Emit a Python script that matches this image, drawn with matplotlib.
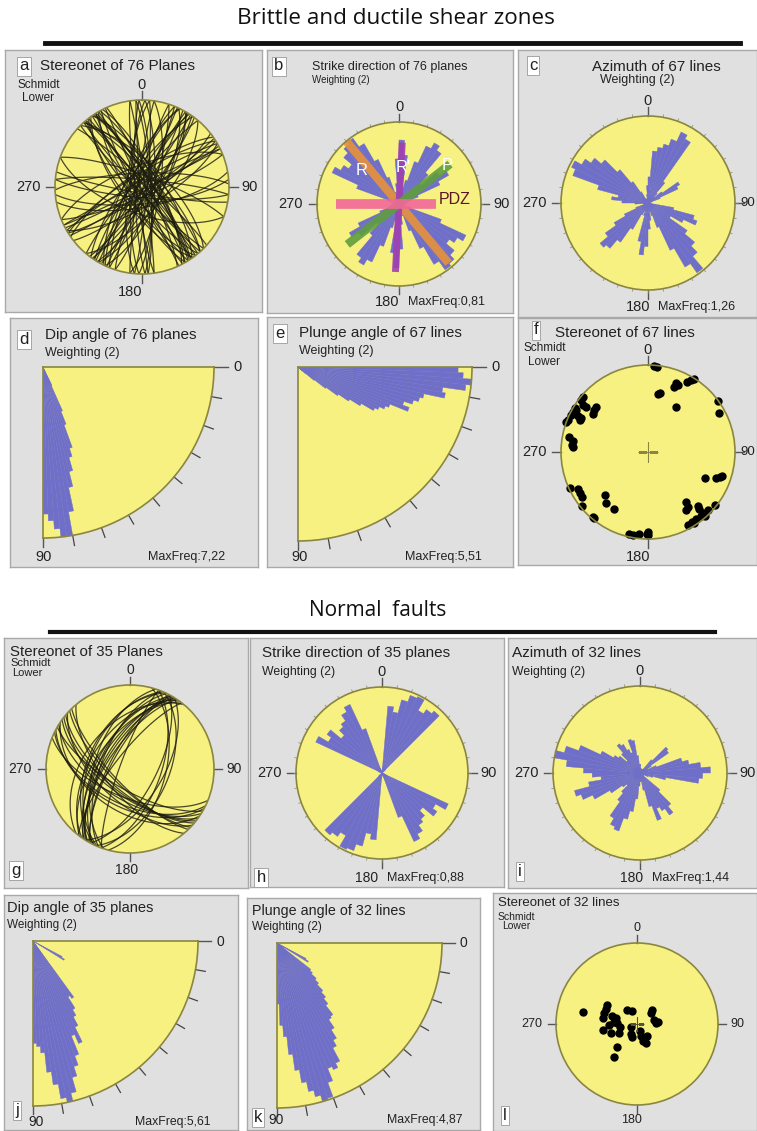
import numpy as np
import matplotlib.pyplot as plt
from matplotlib.lines import Line2D

W, H = 757, 1131
YEL = '#f7f182'
BLUE = '#6f6fc9'
GRAY = '#e0e0e0'
EDGE = '#a9a9a9'
RIM = '#8a8640'
INK = '#222222'
plt.rcParams['font.family'] = ['Liberation Sans', 'DejaVu Sans']

# ---------------- data ----------------
# a: 76 planes, strike (right hand rule) / dip
a_strike = [312, 318, 322, 325, 328, 330, 333, 336, 315, 320, 326, 331, 135, 140, 142, 145, 148, 150, 138, 144, 152, 155, 318, 327,
            18, 22, 25, 28, 31, 34, 37, 40, 198, 202, 206, 210, 213, 216, 220, 24, 30, 205, 212, 35,
            352, 356, 2, 5, 8, 172, 176, 182, 185, 188, 358, 178,
            52, 56, 60, 64, 68, 235, 240, 244, 248, 58, 238, 62,
            85, 95, 268, 275, 110, 290, 80, 100]
a_dip = [84, 78, 88, 72, 81, 86, 75, 83, 69, 87, 80, 77, 85, 79, 73, 88, 82, 76, 86, 70, 83, 89, 74, 81,
         80, 86, 71, 84, 77, 88, 82, 68, 85, 79, 74, 87, 81, 76, 83, 89, 72, 78, 86, 80,
         87, 82, 78, 85, 73, 84, 88, 79, 76, 86, 81, 83,
         79, 85, 72, 88, 81, 76, 84, 87, 70, 82, 78, 86,
         74, 80, 77, 83, 65, 79, 71, 84]

# b: strike rose of 76 planes, 5 deg bins over 0-180 (fraction of MaxFreq)
b_freq = [0.78, 0.60, 0.20, 0.30, 0.55, 0.78, 0.86, 0.80, 0.50, 0.35, 0.60, 0.70,
          0.55, 0.25, 0.10, 0.00, 0.00, 0.05, 0.05, 0.00, 0.00, 0.15, 0.55, 0.90,
          0.82, 0.75, 0.88, 0.95, 0.98, 0.85, 0.60, 0.35, 0.15, 0.10, 0.25, 0.55]
# b: interpreted shear directions R, R', P, PDZ
shear_names = ['R', "R'", 'P', 'PDZ']
shear_az = [320, 3, 52, 270]
shear_len = [1.0, 0.75, 0.79, 0.77]
shear_back = [0.94, 0.83, 0.80, 0.45]

# c: azimuth rose of 67 lines, 5 deg bins over 0-360
c_freq = [0.30, 0.60, 0.65, 0.70, 0.78, 0.90, 0.85, 0.30, 0.15, 0.10, 0.20, 0.42,
          0.38, 0.15, 0.05, 0.00, 0.00, 0.00, 0.00, 0.00, 0.30, 0.55, 0.60, 0.45,
          0.30, 0.55, 0.70, 0.80, 0.98, 0.85, 0.60, 0.30, 0.15, 0.10, 0.20, 0.30,
          0.50, 0.60, 0.45, 0.15, 0.10, 0.15, 0.35, 0.55, 0.68, 0.72, 0.60, 0.45,
          0.30, 0.15, 0.05, 0.05, 0.05, 0.15, 0.30, 0.42, 0.35, 0.60, 0.92, 0.97,
          0.88, 0.80, 0.70, 0.50, 0.30, 0.15, 0.05, 0.05, 0.05, 0.05, 0.10, 0.20]

# d, e, j, k: dip / plunge histograms, 2 deg bins over 0-90
d_freq = [0, 0, 0, 0, 0, 0, 0, 0, 0, 0, 0, 0, 0, 0, 0, 0, 0, 0, 0, 0, 0, 0, 0, 0,
          0, 0, 0, 0, 0, 0, 0, 0, 0.12, 0.28, 0.36, 0.50, 0.55, 0.63, 0.72, 0.86,
          1.0, 1.0, 0.95, 0.90, 0.86]
e_freq = [0.92, 0.95, 1.0, 0.97, 0.84, 0.86, 0.74, 0.72, 0.69, 0.64, 0.68, 0.57,
          0.55, 0.52, 0.50, 0.42, 0.35, 0.28, 0.20, 0.12, 0.06, 0.03, 0, 0,
          0, 0, 0, 0, 0, 0, 0, 0, 0, 0, 0, 0, 0, 0, 0, 0, 0, 0, 0, 0, 0]
j_freq = [0, 0, 0, 0, 0, 0, 0, 0, 0, 0, 0, 0, 0, 0, 0.20, 0.22, 0, 0, 0, 0, 0, 0, 0, 0,
          0, 0, 0, 0.42, 0.40, 0.48, 0.52, 0.58, 0.68, 0.62, 0.74, 0.80, 0.86, 0.95,
          1.0, 0.97, 0.88, 0.80, 0.68, 0.64, 0.62]
k_freq = [0, 0, 0, 0, 0, 0, 0, 0, 0, 0, 0, 0, 0, 0, 0.20, 0.22, 0, 0, 0.05, 0.26,
          0.28, 0.32, 0.35, 0.40, 0.44, 0.48, 0.55, 0.56, 0.62, 0.68, 0.72, 0.81,
          0.84, 0.82, 0.90, 0.99, 1.0, 0.96, 0.92, 0.86, 0.78, 0.68, 0.57, 0.50, 0.37]

# f: 67 lines, trend / plunge
f_trend = [6, 4, 32, 31, 29, 24, 22, 22, 11, 10, 32, 54, 61, 310, 308, 301, 298, 300, 296, 292,
           290, 297, 297, 295, 306, 306, 305, 308, 311, 278, 275, 274, 115, 111, 109, 108, 245,
           242, 239, 236, 231, 225, 219, 211, 220, 219, 143, 144, 147, 137, 138, 138, 138, 134,
           128, 144, 148, 151, 147, 193, 190, 186, 181, 180, 180, 281, 140]
f_plunge = [2, 1, 1, 4, 9, 17, 16, 20, 31, 33, 39, 1, 8, 2, 3, 2, 2, 5, 2, 1,
            0, 11, 15, 15, 9, 13, 24, 23, 22, 14, 13, 15, 29, 17, 14, 12, 1,
            10, 9, 9, 2, 31, 25, 25, 2, 2, 29, 23, 21, 16, 13, 7, 2, 4,
            2, 6, 6, 5, 3, 4, 3, 6, 6, 5, 9, 8, 5]

# g: 35 planes, strike / dip
g_strike = [198, 202, 205, 208, 210, 212, 215, 218, 220, 200, 206, 214, 203, 209, 217, 211, 213,
            15, 20, 24, 28, 32,
            112, 116, 120, 124, 128, 132, 136, 118, 126, 122, 130, 134, 140]
g_dip = [55, 62, 48, 70, 58, 66, 52, 75, 45, 80, 60, 68, 50, 72, 57, 64, 61,
         55, 60, 52, 65, 58,
         62, 55, 70, 48, 66, 58, 74, 52, 64, 60, 68, 72, 65]

# h: strike rose of 35 planes, 5 deg bins over 0-180
h_freq = [0.00, 0.78, 0.72, 0.88, 0.96, 0.98, 0.84, 0.90, 0.94, 0.05, 0, 0,
          0, 0, 0, 0, 0, 0, 0, 0, 0, 0, 0.05, 0.85,
          0.72, 0.78, 0.62, 0.70, 0.74, 0.82, 0.88, 0.55, 0.05, 0, 0, 0]

# i: azimuth rose of 32 lines, 5 deg bins over 0-360
i_freq = [0.10, 0.05, 0.05, 0.05, 0.05, 0.05, 0.05, 0.05, 0.20, 0.42, 0.40, 0.15,
          0.10, 0.20, 0.50, 0.57, 0.70, 0.81, 0.72, 0.68, 0.30, 0.15, 0.10, 0.05,
          0.05, 0.05, 0.30, 0.50, 0.59, 0.50, 0.45, 0.58, 0.40, 0.20, 0.10, 0.10,
          0.15, 0.30, 0.45, 0.55, 0.71, 0.68, 0.60, 0.40, 0.30, 0.20, 0.25, 0.40,
          0.60, 0.72, 0.78, 0.60, 0.45, 0.55, 0.65, 0.85, 1.00, 0.90, 0.75, 0.50,
          0.35, 0.30, 0.20, 0.30, 0.41, 0.38, 0.30, 0.25, 0.40, 0.38, 0.20, 0.10]

# l: 32 lines, trend / plunge
l_trend = [283, 302, 296, 289, 280, 324, 338, 47, 77, 84, 88, 287, 285, 276, 272, 260,
           250, 244, 246, 210, 199, 160, 153, 140, 162, 155, 159, 220, 215, 268, 261, 53]
l_plunge = [32, 54, 55, 55, 55, 73, 76, 69, 72, 69, 71, 64, 68, 67, 70, 55,
            62, 70, 83, 78, 76, 77, 74, 74, 72, 69, 83, 59, 49, 62, 73, 72]

# ---------------- helpers ----------------
fig = plt.figure(figsize=(W / 100, H / 100), dpi=100)
fig.patch.set_facecolor('white')


def fbox(x0, y0, x1, y1):
    return [x0 / W, 1 - y1 / H, (x1 - x0) / W, (y1 - y0) / H]


def txt(x, y, s, size=9, ha='left', va='center', color=INK, **kw):
    fig.text(x / W, 1 - y / H, s, fontsize=size, ha=ha, va=va, color=color, **kw)


def letter(x, y, s):
    fig.text(x / W, 1 - y / H, s, fontsize=12, ha='center', va='center', color=INK,
             bbox=dict(boxstyle='square,pad=0.12', fc='white', ec='#999999', lw=0.6))


def panel(x0, y0, x1, y1):
    ax = fig.add_axes(fbox(x0, y0, x1, y1))
    ax.set_facecolor(GRAY)
    ax.set_xticks([])
    ax.set_yticks([])
    for s in ax.spines.values():
        s.set_edgecolor(EDGE)
        s.set_linewidth(1.0)
    return ax


def net(cx, cy, R, fine=False):
    ax = fig.add_axes(fbox(cx - R, cy - R, cx + R, cy + R), projection='polar')
    ax.set_theta_zero_location('N')
    ax.set_theta_direction(-1)
    ax.set_ylim(0, 1)
    ax.set_xticks([])
    ax.set_yticks([])
    ax.grid(False)
    ax.set_facecolor(YEL)
    ax.spines['polar'].set_edgecolor(RIM)
    ax.spines['polar'].set_linewidth(1.2)
    for t in (0, 90, 180, 270):
        ax.plot([np.radians(t)] * 2, [1, 1.1], color='#555555', lw=1, clip_on=False)
    if fine:
        for t in range(10, 360, 10):
            ax.plot([np.radians(t)] * 2, [1, 1.03], color='#8a8a55', lw=0.5, clip_on=False)
    return ax


def quarter(ox, oy, R):
    ax = fig.add_axes(fbox(ox, oy, ox + R, oy + R), projection='polar')
    ax.set_theta_zero_location('E')
    ax.set_theta_direction(-1)
    ax.set_thetamin(0)
    ax.set_thetamax(90)
    ax.set_ylim(0, 1)
    ax.set_xticks([])
    ax.set_yticks([])
    ax.grid(False)
    ax.set_facecolor(YEL)
    for sp in ('polar', 'start', 'end'):
        ax.spines[sp].set_edgecolor(RIM)
        ax.spines[sp].set_linewidth(1.2)
    ax.spines['inner'].set_visible(False)
    ax.plot([0, 0], [1, 1.08], color='#555555', lw=1, clip_on=False)
    ax.plot([np.pi / 2] * 2, [1, 1.05], color='#555555', lw=1, clip_on=False)
    for t in range(10, 90, 10):
        ax.plot([np.radians(t)] * 2, [1.0, 1.06], color='#444444', lw=0.9, clip_on=False)
    return ax


def eq_area(plunge):
    p = np.radians(np.asarray(plunge, dtype=float))
    return np.sqrt(2) * np.sin((np.pi / 2 - p) / 2)


def great_circle(strike, dip):
    lam = np.radians(np.linspace(0, 180, 121))
    s, d = np.radians(strike), np.radians(dip)
    e = np.cos(lam) * np.sin(s) + np.sin(lam) * np.cos(d) * np.cos(s)
    n = np.cos(lam) * np.cos(s) - np.sin(lam) * np.cos(d) * np.sin(s)
    z = np.sin(lam) * np.sin(d)
    trend = np.unwrap(np.arctan2(e, n))
    plunge = np.degrees(np.arcsin(np.clip(z, -1, 1)))
    return trend, eq_area(plunge)


def rose(ax, freq, span=360):
    n = len(freq)
    w = span / n
    th = np.radians(np.arange(n) * w + w / 2)
    ax.bar(th, freq, width=np.radians(w), color=BLUE, edgecolor=BLUE, lw=0.3)


def card_labels(cx, cy, R, size=10.5, east=None, east_size=None):
    txt(cx, cy - R - 15, '0', size=size, ha='center')
    txt(cx - R - 14, cy, '270', size=size, ha='right')
    txt(cx + R + 12 if east is None else east, cy, '90',
        size=size if east_size is None else east_size, ha='left')


# ---------------- big titles ----------------
fig.text(396 / W, 1 - 19 / H, 'Brittle and ductile shear zones', fontsize=16.2,
         family=['Open Sans', 'DejaVu Sans'], ha='center', va='center', color='#111111')
fig.add_artist(Line2D([45 / W, 740 / W], [1 - 43 / H] * 2, lw=3.5, color='#111111'))
fig.text(378 / W, 1 - 611 / H, 'Normal  faults', fontsize=15,
         family=['Open Sans', 'DejaVu Sans'], ha='center', va='center', color='#111111')
fig.add_artist(Line2D([50 / W, 715 / W], [1 - 632 / H] * 2, lw=3.0, color='#111111'))

# ---------------- panel backgrounds ----------------
for box in [(5, 50, 262, 312), (267, 50, 513, 313), (518, 50, 757, 317),
            (10, 318, 258, 567), (267, 317, 513, 567), (518, 318, 757, 565),
            (4, 638, 248, 888), (250, 638, 504, 887), (508, 638, 757, 888),
            (4, 895, 238, 1130), (247, 898, 480, 1130), (493, 893, 757, 1131)]:
    panel(*box)

# ---------------- a ----------------
ax = net(142, 187, 87)
for s, d in zip(a_strike, a_dip):
    t, r = great_circle(s, d)
    ax.plot(t, r, color='#1c1c10', lw=0.9, alpha=0.8)
letter(24, 66, 'a')
txt(40, 66, 'Stereonet of 76 Planes', size=11)
txt(17, 85, 'Schmidt', size=8.5)
txt(22, 98, 'Lower', size=8.5)
card_labels(142, 187, 87)
txt(142, 292, '180', size=10.5, ha='right')

# ---------------- b ----------------
ax = net(399, 204, 82, fine=True)
rose(ax, b_freq + b_freq)
shear_cols = ['#e8923a', '#a13fb0', '#5f9e3e', '#f2679a']
shear_w = [6, 5, 6, 7]
for az, l1, l2, c, lw in zip(shear_az, shear_len, shear_back, shear_cols, shear_w):
    th = np.radians(az)
    ax.plot([th, th], [0, l1], color=c, lw=lw, alpha=0.9, solid_capstyle='butt')
    ax.plot([th + np.pi] * 2, [0, l2], color=c, lw=lw, alpha=0.9, solid_capstyle='butt')
for name, (x, y), col in zip(shear_names, [(362, 170), (403, 168), (447, 166), (455, 199)],
                             ['white', 'white', 'white', '#5a1528']):
    txt(x, y, name, size=12 if name != 'PDZ' else 11.5, ha='center', color=col)
letter(279, 66, 'b')
txt(312, 67, 'Strike direction of 76 planes', size=9)
txt(312, 80, 'Weighting (2)', size=7)
card_labels(399, 204, 82)
txt(399, 302, '180', size=10.5, ha='right')
txt(408, 302, 'MaxFreq:0,81', size=9)

# ---------------- c ----------------
ax = net(648, 203, 87, fine=True)
rose(ax, c_freq)
letter(533, 65, 'c')
txt(592, 67, 'Azimuth of 67 lines', size=11)
txt(600, 80, 'Weighting (2)', size=9)
card_labels(648, 203, 87, east=740, east_size=9.5)
txt(650, 307, '180', size=10.5, ha='right')
txt(658, 307, 'MaxFreq:1,26', size=9)

# ---------------- d ----------------
ax = quarter(43, 367, 171)
rose(ax, d_freq, span=90)
letter(24, 339, 'd')
txt(45, 335, 'Dip angle of 76 planes', size=11)
txt(45, 353, 'Weighting (2)', size=9)
txt(238, 367, '0', size=10.5, ha='center')
txt(44, 557, '90', size=10.5, ha='center')
txt(148, 557, 'MaxFreq:7,22', size=9)

# ---------------- e ----------------
ax = quarter(298, 367, 174)
rose(ax, e_freq, span=90)
letter(280, 333, 'e')
txt(299, 333, 'Plunge angle of 67 lines', size=11)
txt(299, 351, 'Weighting (2)', size=9)
txt(495, 367, '0', size=10.5, ha='center')
txt(300, 557, '90', size=10.5, ha='center')
txt(405, 557, 'MaxFreq:5,51', size=9)

# ---------------- f ----------------
ax = net(648, 452, 87)
ax.plot(np.radians(f_trend), eq_area(f_plunge), 'o', ms=5, color='black', clip_on=False)
ax.plot(0, 0, '+', ms=14, mew=0.8, color='#8a8640')
letter(536, 330, 'f')
txt(555, 333, 'Stereonet of 67 lines', size=11)
txt(523, 348, 'Schmidt', size=8.5)
txt(528, 362, 'Lower', size=8.5)
card_labels(648, 452, 87, east=740, east_size=9.5)
txt(650, 557, '180', size=10.5, ha='right')

# ---------------- g ----------------
ax = net(130, 769, 84)
for s, d in zip(g_strike, g_dip):
    t, r = great_circle(s, d)
    ax.plot(t, r, color='#1c1c10', lw=0.9, alpha=0.8)
txt(10, 652, 'Stereonet of 35 Planes', size=10.8)
txt(10, 663, 'Schmidt', size=8)
txt(12, 673, 'Lower', size=8)
card_labels(130, 769, 84, size=10)
txt(138, 870, '180', size=10, ha='right')
letter(16, 870, 'g')

# ---------------- h ----------------
ax = net(382, 773, 86, fine=True)
rose(ax, h_freq + h_freq)
txt(262, 653, 'Strike direction of 35 planes', size=11)
txt(262, 672, 'Weighting (2)', size=8.8)
card_labels(382, 773, 86)
txt(378, 878, '180', size=10, ha='right')
txt(387, 878, 'MaxFreq:0,88', size=9)
letter(261, 877, 'h')

# ---------------- i ----------------
ax = net(640, 773, 87, fine=True)
rose(ax, i_freq)
txt(512, 653, 'Azimuth of 32 lines', size=11)
txt(512, 672, 'Weighting (2)', size=8.8)
card_labels(640, 773, 87)
txt(643, 878, '180', size=10, ha='right')
txt(652, 878, 'MaxFreq:1,44', size=9)
letter(520, 871, 'i')

# ---------------- j ----------------
ax = quarter(33, 941, 165)
rose(ax, j_freq, span=90)
txt(7, 908, 'Dip angle of 35 planes', size=10.5)
txt(7, 925, 'Weighting (2)', size=8.5)
txt(220, 942, '0', size=10, ha='center')
txt(36, 1122, '90', size=10, ha='center')
txt(135, 1122, 'MaxFreq:5,61', size=8.8)
letter(17, 1110, 'j')

# ---------------- k ----------------
ax = quarter(277, 943, 165)
rose(ax, k_freq, span=90)
txt(252, 911, 'Plunge angle of 32 lines', size=10.3)
txt(252, 927, 'Weighting (2)', size=8.5)
txt(463, 943, '0', size=10, ha='center')
txt(276, 1120, '90', size=10, ha='center')
txt(387, 1120, 'MaxFreq:4,87', size=8.8)
letter(258, 1117, 'k')

# ---------------- l ----------------
ax = net(637, 1024, 81)
ax.plot(np.radians(l_trend), eq_area(l_plunge), 'o', ms=5, color='black')
ax.plot(0, 0, '+', ms=10, mew=0.8, color='#555533')
txt(498, 903, 'Stereonet of 32 lines', size=9.5)
txt(498, 917, 'Schmidt', size=7.5)
txt(502, 926, 'Lower', size=7.5)
card_labels(637, 1024, 81, size=9)
txt(642, 1120, '180', size=9, ha='right')
letter(505, 1115, 'l')

fig.savefig('out.png', dpi=100, facecolor='white')
